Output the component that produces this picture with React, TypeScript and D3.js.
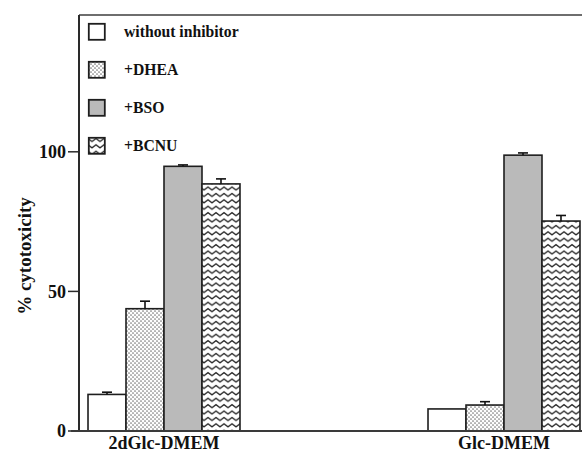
import React from "react";
import * as d3 from "d3";

// Conditions on the x axis
const conditions = ["2dGlc-DMEM", "Glc-DMEM"];
// Treatment series (legend order)
const seriesNames = ["without inhibitor", "+DHEA", "+BSO", "+BCNU"];
// Mean % cytotoxicity per series, one value per condition
const withoutInhibitor = [13.1, 7.9];
const dhea = [43.8, 9.3];
const bso = [94.8, 98.8];
const bcnu = [88.5, 75.2];
// Upper error (SEM) per series
const withoutInhibitorErr = [0.8, 0];
const dheaErr = [2.7, 1.2];
const bsoErr = [0.5, 0.8];
const bcnuErr = [1.8, 2.0];
// Y axis ticks
const yTicks = [0, 50, 100];

const values = [withoutInhibitor, dhea, bso, bcnu];
const errors = [withoutInhibitorErr, dheaErr, bsoErr, bcnuErr];
const fills = ["#ffffff", "url(#dots)", "#bababa", "url(#zigzag)"];

const W = 582;
const H = 452;
const left = 79;
const top = 15;
const baseline = 431;
const FONT = "'Liberation Serif', 'Times New Roman', serif";

export default function App() {
  const x0 = d3
    .scaleBand<string>()
    .domain(conditions)
    .range([left, 589])
    .paddingInner(0.553)
    .paddingOuter(0.0265);
  const x1 = d3
    .scaleBand<string>()
    .domain(seriesNames)
    .range([0, x0.bandwidth()]);
  const y = d3.scaleLinear().domain([0, 149]).range([baseline, top]);

  const stroke = "#1e1e1e";

  return (
    <svg
      width={W}
      height={H}
      style={{ position: "fixed", left: 0, top: 0, background: "#fff" }}
      fontFamily={FONT}
    >
      <defs>
        <pattern id="dots" width={4} height={4} patternUnits="userSpaceOnUse">
          <rect width={4} height={4} fill="#fff" />
          <circle cx={1} cy={1} r={0.85} fill="#7a7a7a" />
          <circle cx={3} cy={3} r={0.85} fill="#7a7a7a" />
        </pattern>
        <pattern id="zigzag" width={8} height={6.4} patternUnits="userSpaceOnUse">
          <rect width={8} height={6.4} fill="#fff" />
          <path
            d="M-2,4.4 L0,1.4 L4,4.4 L8,1.4 L10,4.4"
            fill="none"
            stroke="#2a2a2a"
            strokeWidth={1.3}
            strokeLinejoin="round"
          />
        </pattern>
      </defs>

      {/* frame: top rule */}
      <line x1={left} x2={W} y1={top} y2={top} stroke="#6e6e6e" strokeWidth={2} />

      {/* bars */}
      {conditions.map((c, ci) => (
        <g key={c} transform={`translate(${x0(c)},0)`}>
          {seriesNames.map((s, si) => {
            const v = values[si][ci];
            const e = errors[si][ci];
            const bx = x1(s)!;
            const bw = x1.bandwidth();
            const cx = bx + bw / 2;
            return (
              <g key={s}>
                <rect
                  x={bx}
                  y={y(v)}
                  width={bw}
                  height={baseline - y(v)}
                  fill={fills[si]}
                  stroke={stroke}
                  strokeWidth={1.6}
                />
                {e > 0 && (
                  <g stroke="#111" strokeWidth={1.6}>
                    <line x1={cx} x2={cx} y1={y(v)} y2={y(v + e)} />
                    <line x1={cx - 5} x2={cx + 5} y1={y(v + e)} y2={y(v + e)} />
                  </g>
                )}
              </g>
            );
          })}
          <text
            x={x0.bandwidth() / 2}
            y={449}
            textAnchor="middle"
            fontSize={18}
            fontWeight="bold"
            fill="#111"
          >
            {c}
          </text>
        </g>
      ))}

      {/* y axis */}
      <line x1={left} x2={left} y1={top} y2={baseline + 1} stroke="#2a2a2a" strokeWidth={2} />
      {yTicks.map((t) => (
        <g key={t} transform={`translate(0,${y(t)})`}>
          <line x1={left - 11} x2={left} stroke="#2a2a2a" strokeWidth={1.5} />
          <text
            x={left - 13}
            dy="0.35em"
            textAnchor="end"
            fontSize={18}
            fontWeight="bold"
            fill="#111"
          >
            {t}
          </text>
        </g>
      ))}
      {/* x axis baseline */}
      <line x1={71} x2={W} y1={baseline} y2={baseline} stroke="#3a3a3a" strokeWidth={2} />

      <text
        transform={`translate(31,256) rotate(-90)`}
        textAnchor="middle"
        fontSize={19}
        fontWeight="bold"
        fill="#111"
      >
        {"%  cytotoxicity"}
      </text>

      {/* legend */}
      {seriesNames.map((s, i) => (
        <g key={s} transform={`translate(88,${23 + i * 38})`}>
          <rect
            x={0.8}
            y={0.8}
            width={16}
            height={16}
            fill={fills[i]}
            stroke={stroke}
            strokeWidth={1.8}
          />
          <text x={36} y={14} fontSize={15.7} fontWeight="bold" fill="#111">
            {s}
          </text>
        </g>
      ))}
    </svg>
  );
}
